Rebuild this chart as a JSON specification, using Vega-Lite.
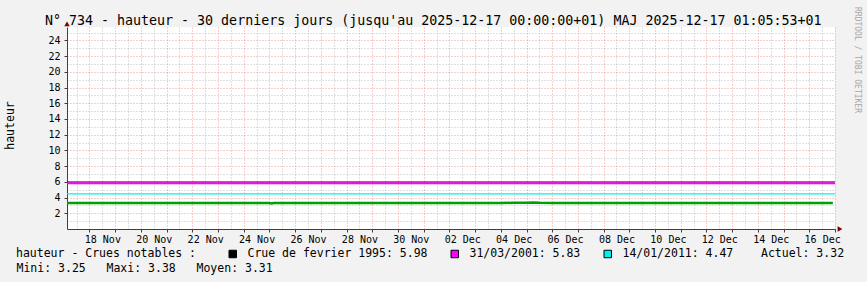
{
  "$schema": "https://vega.github.io/schema/vega-lite/v6.json",
  "width": 768,
  "height": 202,
  "autosize": {"type": "none"},
  "padding": {"left": 67, "top": 27, "right": 32, "bottom": 53},
  "background": "#f2f2f2",
  "config": {"view": {"fill": "white", "stroke": null}, "font": "DejaVu Sans Mono"},
  "title": {
    "text": "N° 734 - hauteur - 30 derniers jours (jusqu'au 2025-12-17 00:00:00+01) MAJ 2025-12-17 01:05:53+01",
    "anchor": "start", "frame": "group", "dx": -22, "offset": -31, "baseline": "alphabetic",
    "fontSize": 13.3, "fontWeight": "normal", "font": "DejaVu Sans Mono", "color": "black"
  },
  "datasets": {
    "serie": [
      {"t": "2025-11-17T03:00", "hauteur": 3.31},
      {"t": "2025-11-17T12:00", "hauteur": 3.32},
      {"t": "2025-11-18T00:00", "hauteur": 3.31},
      {"t": "2025-11-18T12:00", "hauteur": 3.31},
      {"t": "2025-11-19T00:00", "hauteur": 3.32},
      {"t": "2025-11-19T12:00", "hauteur": 3.31},
      {"t": "2025-11-20T00:00", "hauteur": 3.30},
      {"t": "2025-11-20T12:00", "hauteur": 3.31},
      {"t": "2025-11-21T00:00", "hauteur": 3.32},
      {"t": "2025-11-21T12:00", "hauteur": 3.31},
      {"t": "2025-11-22T00:00", "hauteur": 3.31},
      {"t": "2025-11-22T12:00", "hauteur": 3.30},
      {"t": "2025-11-23T00:00", "hauteur": 3.31},
      {"t": "2025-11-23T12:00", "hauteur": 3.32},
      {"t": "2025-11-24T00:00", "hauteur": 3.31},
      {"t": "2025-11-24T12:00", "hauteur": 3.31},
      {"t": "2025-11-25T00:00", "hauteur": 3.30},
      {"t": "2025-11-25T02:00", "hauteur": 3.25},
      {"t": "2025-11-25T04:00", "hauteur": 3.30},
      {"t": "2025-11-25T12:00", "hauteur": 3.31},
      {"t": "2025-11-26T00:00", "hauteur": 3.32},
      {"t": "2025-11-26T12:00", "hauteur": 3.31},
      {"t": "2025-11-27T00:00", "hauteur": 3.31},
      {"t": "2025-11-27T12:00", "hauteur": 3.30},
      {"t": "2025-11-28T00:00", "hauteur": 3.31},
      {"t": "2025-11-28T12:00", "hauteur": 3.32},
      {"t": "2025-11-29T00:00", "hauteur": 3.31},
      {"t": "2025-11-29T12:00", "hauteur": 3.31},
      {"t": "2025-11-30T00:00", "hauteur": 3.30},
      {"t": "2025-11-30T12:00", "hauteur": 3.31},
      {"t": "2025-12-01T00:00", "hauteur": 3.32},
      {"t": "2025-12-01T12:00", "hauteur": 3.31},
      {"t": "2025-12-02T00:00", "hauteur": 3.31},
      {"t": "2025-12-02T12:00", "hauteur": 3.30},
      {"t": "2025-12-03T00:00", "hauteur": 3.31},
      {"t": "2025-12-03T12:00", "hauteur": 3.32},
      {"t": "2025-12-04T00:00", "hauteur": 3.31},
      {"t": "2025-12-04T12:00", "hauteur": 3.33},
      {"t": "2025-12-05T00:00", "hauteur": 3.34},
      {"t": "2025-12-05T06:00", "hauteur": 3.38},
      {"t": "2025-12-05T12:00", "hauteur": 3.33},
      {"t": "2025-12-06T00:00", "hauteur": 3.32},
      {"t": "2025-12-06T12:00", "hauteur": 3.31},
      {"t": "2025-12-07T00:00", "hauteur": 3.31},
      {"t": "2025-12-07T12:00", "hauteur": 3.30},
      {"t": "2025-12-08T00:00", "hauteur": 3.31},
      {"t": "2025-12-08T12:00", "hauteur": 3.32},
      {"t": "2025-12-09T00:00", "hauteur": 3.31},
      {"t": "2025-12-09T12:00", "hauteur": 3.31},
      {"t": "2025-12-10T00:00", "hauteur": 3.30},
      {"t": "2025-12-10T12:00", "hauteur": 3.31},
      {"t": "2025-12-11T00:00", "hauteur": 3.32},
      {"t": "2025-12-11T12:00", "hauteur": 3.31},
      {"t": "2025-12-12T00:00", "hauteur": 3.31},
      {"t": "2025-12-12T12:00", "hauteur": 3.30},
      {"t": "2025-12-13T00:00", "hauteur": 3.31},
      {"t": "2025-12-13T12:00", "hauteur": 3.32},
      {"t": "2025-12-14T00:00", "hauteur": 3.31},
      {"t": "2025-12-14T12:00", "hauteur": 3.31},
      {"t": "2025-12-15T00:00", "hauteur": 3.32},
      {"t": "2025-12-15T12:00", "hauteur": 3.31},
      {"t": "2025-12-16T00:00", "hauteur": 3.32},
      {"t": "2025-12-16T12:00", "hauteur": 3.32},
      {"t": "2025-12-16T22:00", "hauteur": 3.32}
    ],
    "crues": [
      {"crue": "Crue de fevrier 1995: 5.98", "hauteur": 5.98},
      {"crue": "31/03/2001: 5.83", "hauteur": 5.83},
      {"crue": "14/01/2011: 4.47", "hauteur": 4.47}
    ]
  },
  "layer": [
    {
      "data": {"name": "serie"},
      "mark": {"type": "line", "color": "#00a000", "strokeWidth": 2.5},
      "encoding": {
        "x": {
          "field": "t", "type": "temporal", "title": "Mini: 3.25\u00a0\u00a0\u00a0Maxi: 3.38\u00a0\u00a0\u00a0Moyen: 3.31",
          "scale": {"domain": [{"year": 2025, "month": 11, "date": 17, "hours": 3}, {"year": 2025, "month": 12, "date": 17, "hours": 0}], "nice": false},
          "axis": {
            "orient": "bottom", "tickCount": 60,
            "labelExpr": "hours(datum.value) == 12 && date(datum.value) % 2 == 0 ? timeFormat(datum.value, '%d %b') : ''",
            "labelFont": "DejaVu Sans Mono", "labelFontSize": 10, "labelColor": "black",
            "labelOverlap": false, "labelFlush": false, "labelBound": false, "labelPadding": 2,
            "tickSize": 3, "tickColor": "#404040",
            "tickOpacity": {"condition": {"test": "hours(datum.value) == 0", "value": 1}, "value": 0},
            "grid": true,
            "gridColor": {"condition": {"test": "hours(datum.value) == 0", "value": "#de5050"}, "value": "#8f8f8f"},
            "gridOpacity": 0.55, "gridDash": [1, 2],
            "domain": true, "domainColor": "#404040", "domainWidth": 1,
            "titleX": -51, "titleY": 39, "titleAlign": "left", "titleBaseline": "middle",
            "titleFont": "DejaVu Sans Mono", "titleFontSize": 11.5, "titleFontWeight": "normal", "titleColor": "black"
          }
        },
        "y": {
          "field": "hauteur", "type": "quantitative", "title": "hauteur",
          "scale": {"domain": [0, 25.7], "nice": false, "zero": false},
          "axis": {
            "orient": "left",
            "values": [1,2,3,4,5,6,7,8,9,10,11,12,13,14,15,16,17,18,19,20,21,22,23,24,25],
            "labelExpr": "datum.value % 2 == 0 ? datum.label : ''",
            "labelFont": "DejaVu Sans Mono", "labelFontSize": 10, "labelColor": "black", "labelPadding": 4,
            "tickSize": 3, "tickColor": "#404040",
            "tickOpacity": {"condition": {"test": "datum.value % 2 == 0", "value": 1}, "value": 0},
            "grid": true,
            "gridColor": {"condition": {"test": "datum.value % 2 == 0", "value": "#de5050"}, "value": "#8f8f8f"},
            "gridOpacity": 0.55, "gridDash": [1, 2],
            "domain": true, "domainColor": "#404040",
            "titleX": -57, "titleY": 98, "titleAlign": "center", "titleBaseline": "middle",
            "titleFont": "DejaVu Sans Mono", "titleFontSize": 11.5, "titleFontWeight": "normal", "titleColor": "black"
          }
        }
      }
    },
    {
      "data": {"name": "crues"},
      "mark": {"type": "rule"},
      "encoding": {
        "y": {
          "field": "hauteur", "type": "quantitative", "title": "hauteur",
          "scale": {"domain": [0, 25.7], "nice": false, "zero": false},
          "axis": {
            "orient": "left",
            "values": [1,2,3,4,5,6,7,8,9,10,11,12,13,14,15,16,17,18,19,20,21,22,23,24,25],
            "labelExpr": "datum.value % 2 == 0 ? datum.label : ''",
            "labelFont": "DejaVu Sans Mono", "labelFontSize": 10, "labelColor": "black", "labelPadding": 4,
            "tickSize": 3, "tickColor": "#404040",
            "tickOpacity": {"condition": {"test": "datum.value % 2 == 0", "value": 1}, "value": 0},
            "grid": true,
            "gridColor": {"condition": {"test": "datum.value % 2 == 0", "value": "#de5050"}, "value": "#8f8f8f"},
            "gridOpacity": 0.55, "gridDash": [1, 2],
            "domain": true, "domainColor": "#404040",
            "titleX": -57, "titleY": 98, "titleAlign": "center", "titleBaseline": "middle",
            "titleFont": "DejaVu Sans Mono", "titleFontSize": 11.5, "titleFontWeight": "normal", "titleColor": "black"
          }
        },
        "stroke": {
          "condition": [
            {"test": "datum.hauteur == 5.98", "value": "#000000"},
            {"test": "datum.hauteur == 5.83", "value": "#ff00ff"}
          ],
          "value": "#00f0f0"
        },
        "strokeWidth": {"condition": {"test": "datum.hauteur == 5.83", "value": 2}, "value": 1.2}
      }
    },
    {
      "data": {"name": "crues"},
      "mark": {"type": "square", "filled": true, "size": 0, "stroke": "black", "strokeWidth": 1, "opacity": 1},
      "encoding": {
        "x": {
          "datum": {"year": 2025, "month": 11, "date": 17, "hours": 3}, "type": "temporal", "title": "Mini: 3.25\u00a0\u00a0\u00a0Maxi: 3.38\u00a0\u00a0\u00a0Moyen: 3.31",
          "scale": {"domain": [{"year": 2025, "month": 11, "date": 17, "hours": 3}, {"year": 2025, "month": 12, "date": 17, "hours": 0}], "nice": false},
          "axis": {
            "orient": "bottom", "tickCount": 60,
            "labelExpr": "hours(datum.value) == 12 && date(datum.value) % 2 == 0 ? timeFormat(datum.value, '%d %b') : ''",
            "labelFont": "DejaVu Sans Mono", "labelFontSize": 10, "labelColor": "black",
            "labelOverlap": false, "labelFlush": false, "labelBound": false, "labelPadding": 2,
            "tickSize": 3, "tickColor": "#404040",
            "tickOpacity": {"condition": {"test": "hours(datum.value) == 0", "value": 1}, "value": 0},
            "grid": true,
            "gridColor": {"condition": {"test": "hours(datum.value) == 0", "value": "#de5050"}, "value": "#8f8f8f"},
            "gridOpacity": 0.55, "gridDash": [1, 2],
            "domain": true, "domainColor": "#404040", "domainWidth": 1,
            "titleX": -51, "titleY": 39, "titleAlign": "left", "titleBaseline": "middle",
            "titleFont": "DejaVu Sans Mono", "titleFontSize": 11.5, "titleFontWeight": "normal", "titleColor": "black"
          }
        },
        "y": {
          "field": "hauteur", "type": "quantitative", "title": "hauteur",
          "scale": {"domain": [0, 25.7], "nice": false, "zero": false},
          "axis": {
            "orient": "left",
            "values": [1,2,3,4,5,6,7,8,9,10,11,12,13,14,15,16,17,18,19,20,21,22,23,24,25],
            "labelExpr": "datum.value % 2 == 0 ? datum.label : ''",
            "labelFont": "DejaVu Sans Mono", "labelFontSize": 10, "labelColor": "black", "labelPadding": 4,
            "tickSize": 3, "tickColor": "#404040",
            "tickOpacity": {"condition": {"test": "datum.value % 2 == 0", "value": 1}, "value": 0},
            "grid": true,
            "gridColor": {"condition": {"test": "datum.value % 2 == 0", "value": "#de5050"}, "value": "#8f8f8f"},
            "gridOpacity": 0.55, "gridDash": [1, 2],
            "domain": true, "domainColor": "#404040",
            "titleX": -57, "titleY": 98, "titleAlign": "center", "titleBaseline": "middle",
            "titleFont": "DejaVu Sans Mono", "titleFontSize": 11.5, "titleFontWeight": "normal", "titleColor": "black"
          }
        },
        "fill": {
          "field": "crue", "type": "nominal",
          "scale": {"domain": ["Crue de fevrier 1995: 5.98", "31/03/2001: 5.83", "14/01/2011: 4.47"], "range": ["#000000", "#ff00ff", "#00f0f0"]},
          "legend": {
            "orient": "none", "legendX": -51, "legendY": 221, "direction": "horizontal",
            "title": "hauteur - Crues notables :", "titleOrient": "left", "titlePadding": 30, "titleLimit": 400,
            "titleFont": "DejaVu Sans Mono", "titleFontSize": 11.5, "titleFontWeight": "normal", "titleColor": "black",
            "titleBaseline": "middle",
            "labelFont": "DejaVu Sans Mono", "labelFontSize": 11.5, "labelColor": "black", "labelLimit": 400,
            "labelExpr": "datum.label == '14/01/2011: 4.47' ? datum.label + '\u00a0\u00a0\u00a0\u00a0Actuel: 3.32' : datum.label",
            "symbolType": "square", "symbolSize": 56, "symbolStrokeColor": "black", "symbolStrokeWidth": 1,
            "labelOffset": 9, "columnPadding": 21
          }
        }
      }
    },
    {
      "data": {"values": [{}]},
      "mark": {"type": "text", "text": "RRDTOOL / TOBI OETIKER", "angle": 90, "align": "center", "baseline": "middle", "font": "DejaVu Sans Mono", "fontSize": 8, "color": "#a8a8a8"},
      "encoding": {
        "x": {
          "datum": {"year": 2025, "month": 12, "date": 17, "hours": 20, "minutes": 30}, "type": "temporal", "title": "Mini: 3.25\u00a0\u00a0\u00a0Maxi: 3.38\u00a0\u00a0\u00a0Moyen: 3.31",
          "scale": {"domain": [{"year": 2025, "month": 11, "date": 17, "hours": 3}, {"year": 2025, "month": 12, "date": 17, "hours": 0}], "nice": false},
          "axis": {
            "orient": "bottom", "tickCount": 60,
            "labelExpr": "hours(datum.value) == 12 && date(datum.value) % 2 == 0 ? timeFormat(datum.value, '%d %b') : ''",
            "labelFont": "DejaVu Sans Mono", "labelFontSize": 10, "labelColor": "black",
            "labelOverlap": false, "labelFlush": false, "labelBound": false, "labelPadding": 2,
            "tickSize": 3, "tickColor": "#404040",
            "tickOpacity": {"condition": {"test": "hours(datum.value) == 0", "value": 1}, "value": 0},
            "grid": true,
            "gridColor": {"condition": {"test": "hours(datum.value) == 0", "value": "#de5050"}, "value": "#8f8f8f"},
            "gridOpacity": 0.55, "gridDash": [1, 2],
            "domain": true, "domainColor": "#404040", "domainWidth": 1,
            "titleX": -51, "titleY": 39, "titleAlign": "left", "titleBaseline": "middle",
            "titleFont": "DejaVu Sans Mono", "titleFontSize": 11.5, "titleFontWeight": "normal", "titleColor": "black"
          }
        },
        "y": {
          "datum": 21.5, "type": "quantitative", "title": "hauteur",
          "scale": {"domain": [0, 25.7], "nice": false, "zero": false},
          "axis": {
            "orient": "left",
            "values": [1,2,3,4,5,6,7,8,9,10,11,12,13,14,15,16,17,18,19,20,21,22,23,24,25],
            "labelExpr": "datum.value % 2 == 0 ? datum.label : ''",
            "labelFont": "DejaVu Sans Mono", "labelFontSize": 10, "labelColor": "black", "labelPadding": 4,
            "tickSize": 3, "tickColor": "#404040",
            "tickOpacity": {"condition": {"test": "datum.value % 2 == 0", "value": 1}, "value": 0},
            "grid": true,
            "gridColor": {"condition": {"test": "datum.value % 2 == 0", "value": "#de5050"}, "value": "#8f8f8f"},
            "gridOpacity": 0.55, "gridDash": [1, 2],
            "domain": true, "domainColor": "#404040",
            "titleX": -57, "titleY": 98, "titleAlign": "center", "titleBaseline": "middle",
            "titleFont": "DejaVu Sans Mono", "titleFontSize": 11.5, "titleFontWeight": "normal", "titleColor": "black"
          }
        }
      }
    },
    {
      "data": {"values": [{}]},
      "mark": {"type": "point", "shape": "triangle-right", "filled": true, "color": "#7f0000", "size": 30, "opacity": 1},
      "encoding": {
        "x": {
          "datum": {"year": 2025, "month": 12, "date": 17, "hours": 4, "minutes": 40}, "type": "temporal", "title": "Mini: 3.25\u00a0\u00a0\u00a0Maxi: 3.38\u00a0\u00a0\u00a0Moyen: 3.31",
          "scale": {"domain": [{"year": 2025, "month": 11, "date": 17, "hours": 3}, {"year": 2025, "month": 12, "date": 17, "hours": 0}], "nice": false},
          "axis": {
            "orient": "bottom", "tickCount": 60,
            "labelExpr": "hours(datum.value) == 12 && date(datum.value) % 2 == 0 ? timeFormat(datum.value, '%d %b') : ''",
            "labelFont": "DejaVu Sans Mono", "labelFontSize": 10, "labelColor": "black",
            "labelOverlap": false, "labelFlush": false, "labelBound": false, "labelPadding": 2,
            "tickSize": 3, "tickColor": "#404040",
            "tickOpacity": {"condition": {"test": "hours(datum.value) == 0", "value": 1}, "value": 0},
            "grid": true,
            "gridColor": {"condition": {"test": "hours(datum.value) == 0", "value": "#de5050"}, "value": "#8f8f8f"},
            "gridOpacity": 0.55, "gridDash": [1, 2],
            "domain": true, "domainColor": "#404040", "domainWidth": 1,
            "titleX": -51, "titleY": 39, "titleAlign": "left", "titleBaseline": "middle",
            "titleFont": "DejaVu Sans Mono", "titleFontSize": 11.5, "titleFontWeight": "normal", "titleColor": "black"
          }
        },
        "y": {
          "datum": 0, "type": "quantitative", "title": "hauteur",
          "scale": {"domain": [0, 25.7], "nice": false, "zero": false},
          "axis": {
            "orient": "left",
            "values": [1,2,3,4,5,6,7,8,9,10,11,12,13,14,15,16,17,18,19,20,21,22,23,24,25],
            "labelExpr": "datum.value % 2 == 0 ? datum.label : ''",
            "labelFont": "DejaVu Sans Mono", "labelFontSize": 10, "labelColor": "black", "labelPadding": 4,
            "tickSize": 3, "tickColor": "#404040",
            "tickOpacity": {"condition": {"test": "datum.value % 2 == 0", "value": 1}, "value": 0},
            "grid": true,
            "gridColor": {"condition": {"test": "datum.value % 2 == 0", "value": "#de5050"}, "value": "#8f8f8f"},
            "gridOpacity": 0.55, "gridDash": [1, 2],
            "domain": true, "domainColor": "#404040",
            "titleX": -57, "titleY": 98, "titleAlign": "center", "titleBaseline": "middle",
            "titleFont": "DejaVu Sans Mono", "titleFontSize": 11.5, "titleFontWeight": "normal", "titleColor": "black"
          }
        }
      }
    },
    {
      "data": {"values": [{}]},
      "mark": {"type": "point", "shape": "triangle-up", "filled": true, "color": "#7f0000", "size": 30, "opacity": 1},
      "encoding": {
        "x": {
          "datum": {"year": 2025, "month": 11, "date": 17, "hours": 3}, "type": "temporal", "title": "Mini: 3.25\u00a0\u00a0\u00a0Maxi: 3.38\u00a0\u00a0\u00a0Moyen: 3.31",
          "scale": {"domain": [{"year": 2025, "month": 11, "date": 17, "hours": 3}, {"year": 2025, "month": 12, "date": 17, "hours": 0}], "nice": false},
          "axis": {
            "orient": "bottom", "tickCount": 60,
            "labelExpr": "hours(datum.value) == 12 && date(datum.value) % 2 == 0 ? timeFormat(datum.value, '%d %b') : ''",
            "labelFont": "DejaVu Sans Mono", "labelFontSize": 10, "labelColor": "black",
            "labelOverlap": false, "labelFlush": false, "labelBound": false, "labelPadding": 2,
            "tickSize": 3, "tickColor": "#404040",
            "tickOpacity": {"condition": {"test": "hours(datum.value) == 0", "value": 1}, "value": 0},
            "grid": true,
            "gridColor": {"condition": {"test": "hours(datum.value) == 0", "value": "#de5050"}, "value": "#8f8f8f"},
            "gridOpacity": 0.55, "gridDash": [1, 2],
            "domain": true, "domainColor": "#404040", "domainWidth": 1,
            "titleX": -51, "titleY": 39, "titleAlign": "left", "titleBaseline": "middle",
            "titleFont": "DejaVu Sans Mono", "titleFontSize": 11.5, "titleFontWeight": "normal", "titleColor": "black"
          }
        },
        "y": {
          "datum": 26.1, "type": "quantitative", "title": "hauteur",
          "scale": {"domain": [0, 25.7], "nice": false, "zero": false},
          "axis": {
            "orient": "left",
            "values": [1,2,3,4,5,6,7,8,9,10,11,12,13,14,15,16,17,18,19,20,21,22,23,24,25],
            "labelExpr": "datum.value % 2 == 0 ? datum.label : ''",
            "labelFont": "DejaVu Sans Mono", "labelFontSize": 10, "labelColor": "black", "labelPadding": 4,
            "tickSize": 3, "tickColor": "#404040",
            "tickOpacity": {"condition": {"test": "datum.value % 2 == 0", "value": 1}, "value": 0},
            "grid": true,
            "gridColor": {"condition": {"test": "datum.value % 2 == 0", "value": "#de5050"}, "value": "#8f8f8f"},
            "gridOpacity": 0.55, "gridDash": [1, 2],
            "domain": true, "domainColor": "#404040",
            "titleX": -57, "titleY": 98, "titleAlign": "center", "titleBaseline": "middle",
            "titleFont": "DejaVu Sans Mono", "titleFontSize": 11.5, "titleFontWeight": "normal", "titleColor": "black"
          }
        }
      }
    }
  ]
}
